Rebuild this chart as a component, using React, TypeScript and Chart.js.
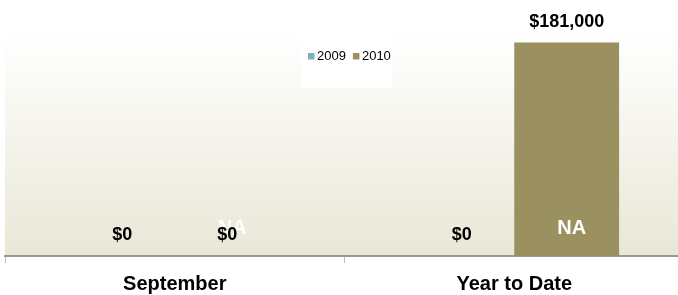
import React, { useEffect, useRef } from "react";
import { Chart, registerables } from "chart.js";

Chart.register(...registerables);

const categories = ["September", "Year to Date"];
const seriesNames = ["2009", "2010"];
const values2009 = [0, 0];
const values2010 = [0, 181000];
const overlay2010 = ["NA", "NA"];
const seriesColors = ["#77B2BD", "#9B9060"];
const yMax = 190000;

const FONT = "'Liberation Sans', Arial, Helvetica, sans-serif";

const bgPlugin = {
  id: "plotBg",
  beforeDraw(chart: any) {
    const { ctx, chartArea } = chart;
    if (!chartArea) return;
    const g = ctx.createLinearGradient(0, chartArea.top, 0, chartArea.bottom);
    g.addColorStop(0, "#FFFFFF");
    g.addColorStop(1, "#E9E7D7");
    ctx.save();
    ctx.fillStyle = g;
    ctx.fillRect(chartArea.left, chartArea.top, chartArea.right - chartArea.left, chartArea.bottom - chartArea.top);
    ctx.restore();
  },
};

const labelPlugin = {
  id: "barLabels",
  afterDatasetsDraw(chart: any) {
    const { ctx } = chart;
    ctx.save();
    ctx.textAlign = "center";
    ctx.textBaseline = "middle";
    const meta2010 = chart.getDatasetMeta(1);
    meta2010.data.forEach((bar: any, i: number) => {
      const t = overlay2010[i];
      if (!t) return;
      ctx.fillStyle = "#FFFFFF";
      ctx.font = `bold 20px ${FONT}`;
      ctx.fillText(t, bar.x + 5, bar.base - 28);
    });
    chart.data.datasets.forEach((ds: any, di: number) => {
      const meta = chart.getDatasetMeta(di);
      meta.data.forEach((bar: any, i: number) => {
        const v = ds.data[i];
        ctx.fillStyle = "#000000";
        ctx.font = `bold 18px ${FONT}`;
        ctx.fillText("$" + v.toLocaleString("en-US"), bar.x, bar.y - 21);
      });
    });
    ctx.restore();
  },
};

const legendPlugin = {
  id: "boxLegend",
  afterDraw(chart: any) {
    const { ctx } = chart;
    ctx.save();
    const bx = 301, by = 38, bw = 91, bh = 50;
    ctx.fillStyle = "#FFFFFF";
    ctx.fillRect(bx, by, bw, bh);
    ctx.font = `13px ${FONT}`;
    ctx.textBaseline = "middle";
    ctx.textAlign = "left";
    let x = bx + 7;
    const cy = 56;
    seriesNames.forEach((name, i) => {
      ctx.fillStyle = seriesColors[i];
      ctx.fillRect(x, cy - 3, 6.5, 6.5);
      ctx.fillStyle = "#000000";
      ctx.fillText(name, x + 9, cy);
      x += 9 + ctx.measureText(name).width + 7;
    });
    ctx.restore();
  },
};

export default function App() {
  const ref = useRef<HTMLCanvasElement>(null);
  useEffect(() => {
    if (!ref.current) return;
    const chart = new Chart(ref.current, {
      type: "bar",
      data: {
        labels: categories,
        datasets: [
          { label: seriesNames[0], data: values2009, backgroundColor: seriesColors[0], categoryPercentage: 0.6176, barPercentage: 1 },
          { label: seriesNames[1], data: values2010, backgroundColor: seriesColors[1], categoryPercentage: 0.6176, barPercentage: 1 },
        ],
      },
      options: {
        animation: false,
        responsive: false,
        maintainAspectRatio: false,
        layout: { padding: { left: 5, right: 0, top: 32, bottom: 0 } },
        plugins: { legend: { display: false }, tooltip: { enabled: false } },
        scales: {
          x: {
            offset: true,
            grid: { display: true, drawOnChartArea: false, drawTicks: true, tickLength: 7, color: "#BBBBBB", offset: true },
            border: { display: true, color: "#999999", width: 2 },
            ticks: { color: "#000000", font: { family: FONT, size: 20, weight: "bold" }, padding: 9 },
          },
          y: { display: false, min: 0, max: yMax },
        },
      },
      plugins: [bgPlugin, labelPlugin, legendPlugin],
    });
    return () => chart.destroy();
  }, []);
  return (
    <div style={{ position: "fixed", left: 0, top: 0, width: 684, height: 305, background: "#FFFFFF" }}>
      <canvas ref={ref} width={684} height={305} style={{ display: "block" }} />
    </div>
  );
}
